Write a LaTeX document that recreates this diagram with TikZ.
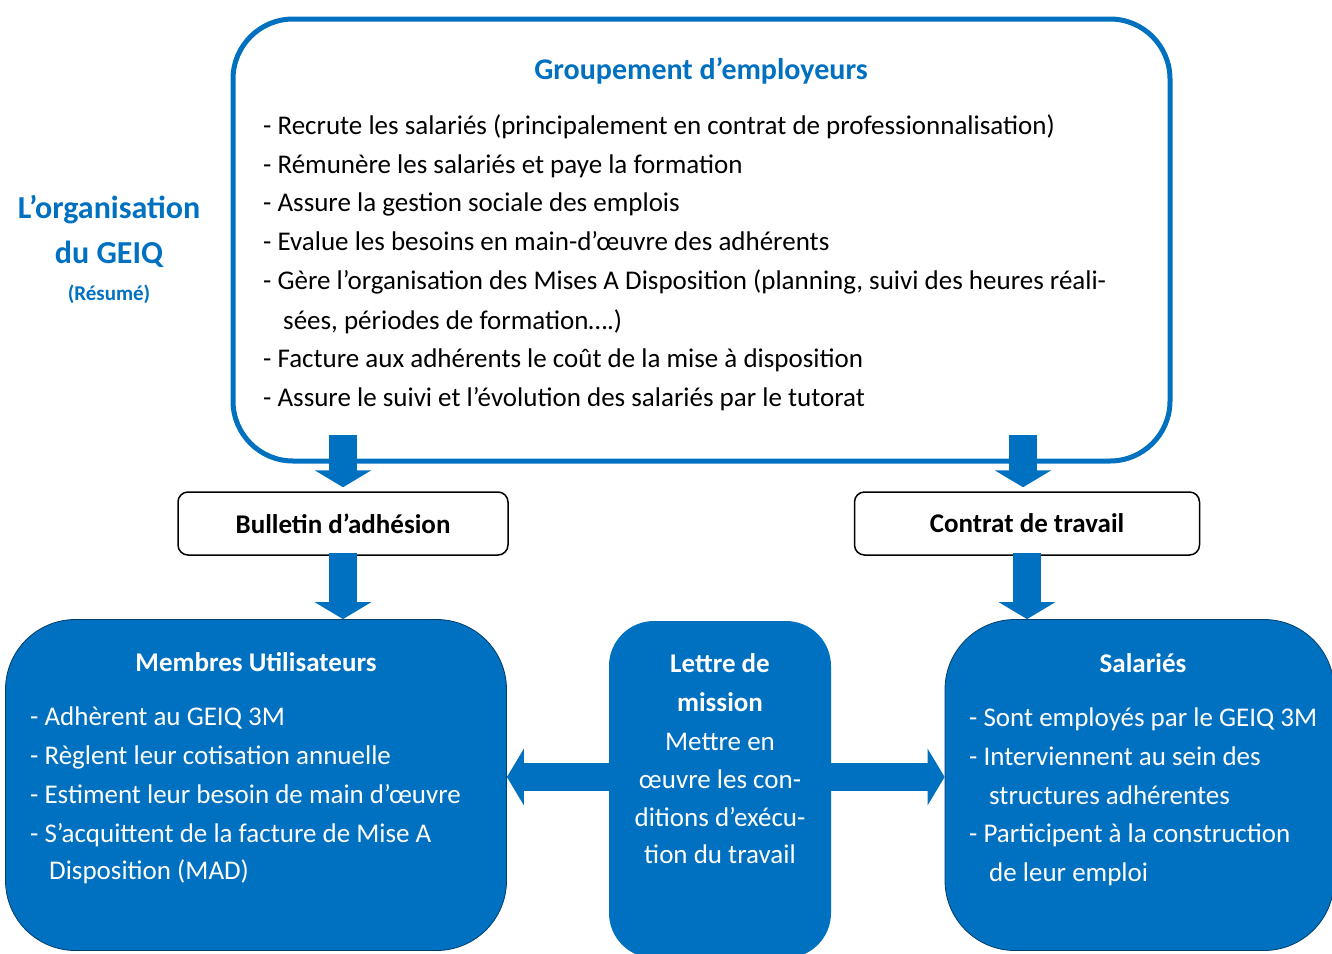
\documentclass[tikz,border=0pt]{standalone}
\usepackage{fontspec}
\setmainfont{Carlito}
\usetikzlibrary{arrows.meta,positioning}

\definecolor{geiqblue}{RGB}{0,112,192}

\tikzset{
    cadre/.style={draw=geiqblue, line width=5pt, rounded corners=60pt},
    acte/.style={draw=black, line width=1.5pt, rounded corners=10pt,
        minimum height=63pt, font=\bfseries\fontsize{27}{32}\selectfont},
    pave/.style={draw=geiqblue!55!black, fill=geiqblue, line width=0.8pt, rounded corners=70pt},
    fleche/.style={draw=geiqblue, line width=28pt, -{Triangle[width=56pt,length=17pt]}},
    ligne/.style={anchor=base west, inner sep=0pt, font=\fontsize{27}{32}\selectfont},
    titre/.style={anchor=base, inner sep=0pt, font=\bfseries\fontsize{27}{32}\selectfont},
}

\begin{document}
\begin{tikzpicture}[x=1pt,y=-1pt]
    \useasboundingbox (0,0) rectangle (1332,953);

    % boxes
    \node[cadre, minimum width=937pt, minimum height=442pt] (groupe) at (701.5,240) {};
    \node[acte, minimum width=330pt] (bulletin) at (343,523.5) {Bulletin d’adhésion};
    \node[acte, minimum width=345pt] (contrat)  at (1027,523.5) {Contrat de travail};
    \node[pave, minimum width=501pt, minimum height=331pt] (membres) at (256,785) {};
    \node[pave, draw=none, rounded corners=45pt, minimum width=222pt, minimum height=337pt] (lettre) at (720,789.5) {};
    \node[pave, minimum width=389pt, minimum height=331pt] (salaries) at (1139.5,785) {};

    % left title
    \node[titre, text=geiqblue, font=\bfseries\fontsize{32}{36}\selectfont] (orga) at (109,218) {L’organisation};
    \node[titre, text=geiqblue, font=\bfseries\fontsize{32}{36}\selectfont] (geiq) at (109,263) {du GEIQ};
    \node[titre, text=geiqblue, font=\bfseries\fontsize{21}{24}\selectfont] (resume) at (109,300) {(Résumé)};

    % groupement
    \node[titre, text=geiqblue, font=\bfseries\fontsize{30}{34}\selectfont] (gtitre) at (701,79) {Groupement d’employeurs};
    \foreach \txt/\x/\y [count=\i] in {
        {- Recrute les salariés (principalement en contrat de professionnalisation)}/263/134,
        {- Rémunère les salariés et paye la formation}/263/173,
        {- Assure la gestion sociale des emplois}/263/211,
        {- Evalue les besoins en main-d’œuvre des adhérents}/263/250,
        {- Gère l’organisation des Mises A Disposition (planning, suivi des heures réali-}/263/289,
        {sées, périodes de formation….)}/283/329,
        {- Facture aux adhérents le coût de la mise à disposition}/263/367,
        {- Assure le suivi et l’évolution des salariés par le tutorat}/263/406}
        \node[ligne] (g\i) at (\x,\y) {\txt};

    % membres
    \node[titre, text=white] (mtitre) at (256,671) {Membres Utilisateurs};
    \foreach \txt/\x/\y [count=\i] in {
        {- Adhèrent au GEIQ 3M}/30/725,
        {- Règlent leur cotisation annuelle}/30/764,
        {- Estiment leur besoin de main d’œuvre}/30/803,
        {- S’acquittent de la facture de Mise A}/30/842,
        {Disposition (MAD)}/49/879}
        \node[ligne, text=white] (m\i) at (\x,\y) {\txt};

    % lettre de mission
    \node[titre, text=white] (ltitre1) at (720,672) {Lettre de};
    \node[titre, text=white] (ltitre2) at (720,711) {mission};
    \foreach \txt/\y [count=\i] in {Mettre en/750, œuvre les con-/788,
        ditions d’exécu-/826, tion du travail/863}
        \node[ligne, anchor=base, text=white] (l\i) at (720,\y) {\txt};

    % salaries
    \node[titre, text=white] (stitre) at (1143,672) {Salariés};
    \foreach \txt/\x/\y [count=\i] in {
        {- Sont employés par le GEIQ 3M}/969/726,
        {- Interviennent au sein des}/969/765,
        {structures adhérentes}/989/804,
        {- Participent à la construction}/969/842,
        {de leur emploi}/989/881}
        \node[ligne, text=white] (s\i) at (\x,\y) {\txt};

    % arrows
    \coordinate (hautg) at (343,435);
    \coordinate (hautd) at (1023,435);
    \coordinate (milieu) at (720,777);
    \draw[fleche] (hautg) -- ([yshift=4pt]bulletin.north);
    \draw[fleche] (hautd) -- ([yshift=4pt]contrat.north -| hautd);
    \draw[fleche] ([yshift=3pt]bulletin.south) -- (bulletin.south |- membres.north);
    \draw[fleche] ([yshift=3pt]contrat.south) -- (contrat.south |- salaries.north);
    \draw[fleche] (milieu -| lettre.west) -- (milieu -| membres.east);
    \draw[fleche] (milieu -| lettre.east) -- (milieu -| salaries.west);
\end{tikzpicture}
\end{document}
